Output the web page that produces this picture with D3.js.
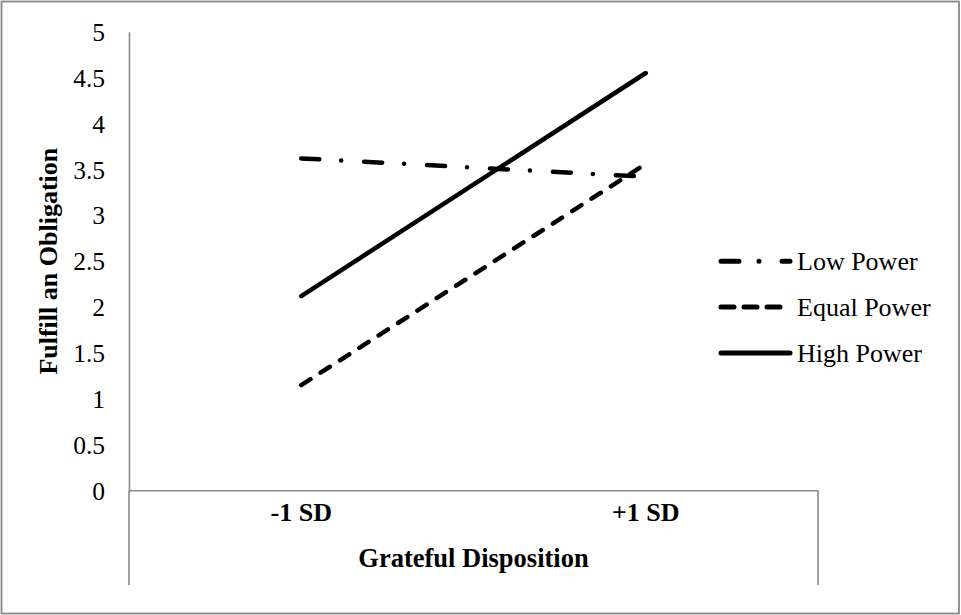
<!DOCTYPE html>
<html>
<head>
<meta charset="utf-8">
<script src="https://cdn.jsdelivr.net/npm/d3@7"></script>
<style>
  body { margin: 0; background: #fff; }
  text { font-family: "Liberation Serif", "Times New Roman", serif; fill: #000; }
</style>
</head>
<body>
<div id="chart"></div>
<script>
// values
let categories = ["-1 SD", "+1 SD"];
let lowPower = [3.62, 3.42];
let equalPower = [1.15, 3.56];
let highPower = [2.12, 4.55];
let yTicks = [0, 0.5, 1, 1.5, 2, 2.5, 3, 3.5, 4, 4.5, 5];
let seriesNames = ["Low Power", "Equal Power", "High Power"];

let width = 961,
	height = 615;

let svg = d3.select("#chart")
	.append("svg")
	.attr("width", width)
	.attr("height", height);

// outer frame
svg.append("rect")
	.attr("x", 1.5).attr("y", 1.5)
	.attr("width", 957.5).attr("height", 612)
	.attr("fill", "none")
	.attr("stroke", "#878787")
	.attr("stroke-width", 1.8);

let plotLeft = 129, plotRight = 818, plotTop = 31.7, plotBottom = 490.7;

let x = d3.scaleBand()
	.domain(categories)
	.range([plotLeft, plotRight]);

let y = d3.scaleLinear()
	.domain([0, 5])
	.range([plotBottom, plotTop]);

// y axis
let yAxis = svg.append("g")
	.attr("transform", "translate(" + plotLeft + ",0)")
	.call(d3.axisLeft(y).tickValues(yTicks).tickSize(0).tickPadding(24).tickFormat(d3.format("")));

yAxis.select(".domain").attr("stroke", "#898989").attr("stroke-width", 1.6);
yAxis.selectAll("text")
	.style("font-family", "'Liberation Serif', 'Times New Roman', serif")
	.style("font-size", "25.5px")
	.attr("dy", "0.34em");

// x axis line + outer ticks extending down
let axisColor = "#898989";
svg.append("line")
	.attr("x1", plotLeft).attr("x2", plotRight)
	.attr("y1", plotBottom).attr("y2", plotBottom)
	.attr("stroke", axisColor).attr("stroke-width", 1.6);

svg.selectAll(".xedge")
	.data([plotLeft, plotRight])
	.enter()
	.append("line")
	.attr("x1", d => d).attr("x2", d => d)
	.attr("y1", plotBottom).attr("y2", 585)
	.attr("stroke", axisColor).attr("stroke-width", 1.6);

svg.selectAll(".xlabel")
	.data(categories)
	.enter()
	.append("text")
	.attr("x", d => x(d) + x.bandwidth() / 2)
	.attr("y", 521)
	.attr("text-anchor", "middle")
	.style("font-size", "26px")
	.style("font-weight", "bold")
	.text(d => d);

// axis titles
svg.append("text")
	.attr("x", (plotLeft + plotRight) / 2)
	.attr("y", 567)
	.attr("text-anchor", "middle")
	.style("font-size", "26.5px")
	.style("font-weight", "bold")
	.text("Grateful Disposition");

svg.append("text")
	.attr("transform", "translate(57," + ((plotTop + plotBottom) / 2) + ") rotate(-90)")
	.attr("text-anchor", "middle")
	.style("font-size", "26px")
	.style("font-weight", "bold")
	.text("Fulfill an Obligation");

// series
let series = [
	{ name: seriesNames[0], values: lowPower, dash: "18,22,0,23", legendDash: "18,20,0,23" },
	{ name: seriesNames[1], values: equalPower, dash: "11,12", legendDash: "13,10" },
	{ name: seriesNames[2], values: highPower, dash: null, legendDash: null }
];

let line = d3.line()
	.x((d, i) => x(categories[i]) + x.bandwidth() / 2)
	.y(d => y(d));

svg.selectAll(".series")
	.data(series)
	.enter()
	.append("path")
	.attr("d", d => line(d.values))
	.attr("fill", "none")
	.attr("stroke", "#000")
	.attr("stroke-width", 4.5)
	.attr("stroke-linecap", "round")
	.attr("stroke-dasharray", d => d.dash);

// legend
let legend = svg.selectAll(".legend")
	.data(series)
	.enter()
	.append("g")
	.attr("transform", (d, i) => "translate(0," + y(2.5 - i * 0.5) + ")");

legend.append("line")
	.attr("x1", 721).attr("x2", 790)
	.attr("y1", 0).attr("y2", 0)
	.attr("stroke", "#000")
	.attr("stroke-width", 5)
	.attr("stroke-linecap", "round")
	.attr("stroke-dasharray", d => d.legendDash);

legend.append("text")
	.attr("x", 797)
	.attr("y", 0)
	.attr("dy", "0.34em")
	.style("font-size", "26px")
	.text(d => d.name);
</script>
</body>
</html>
